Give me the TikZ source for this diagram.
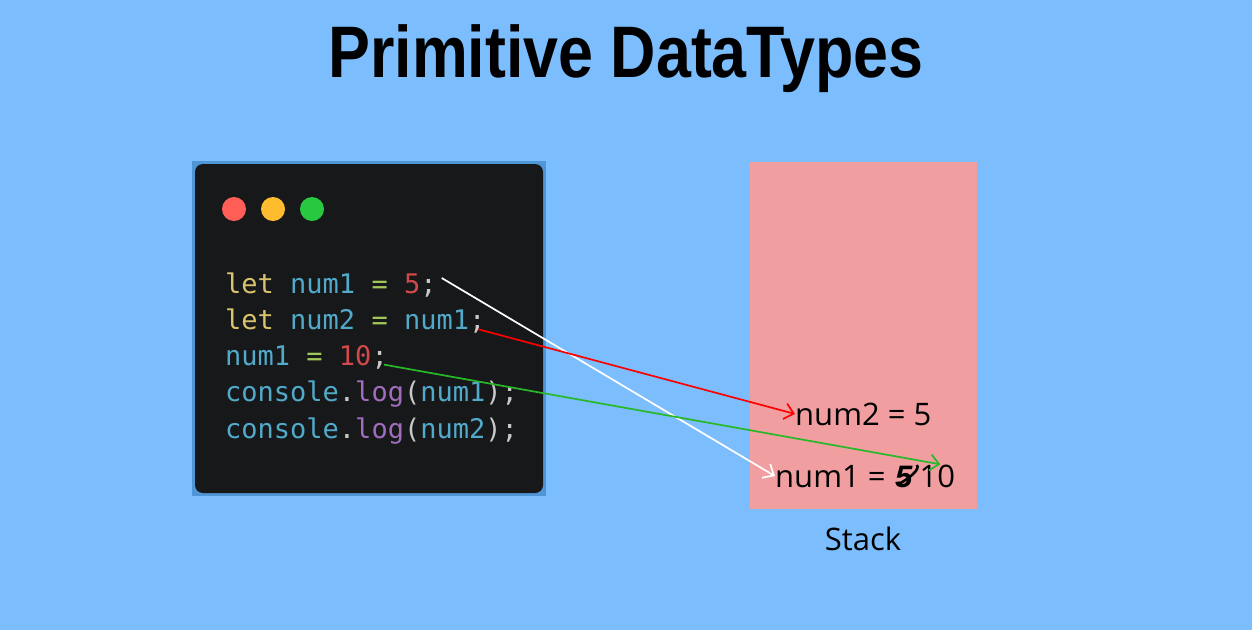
\documentclass[tikz,border=0pt]{standalone}
\usepackage{fontspec}
\setmainfont{Liberation Sans}
\setmonofont{DejaVu Sans Mono}
\newfontfamily\stackfont{Open Sans}
\usetikzlibrary{positioning,arrows.meta}
\definecolor{bgblue}{HTML}{7CBEFD}
\definecolor{frameblue}{HTML}{4F96D6}
\definecolor{codebg}{HTML}{17181A}
\definecolor{stackpink}{HTML}{F09EA0}
\definecolor{dotred}{HTML}{FF5F57}
\definecolor{dotyellow}{HTML}{FEBC2E}
\definecolor{dotgreen}{HTML}{28C840}
\definecolor{kwcol}{HTML}{D9C36C}
\definecolor{varcol}{HTML}{52AACB}
\definecolor{opcol}{HTML}{A2C85A}
\definecolor{numcol}{HTML}{D0494B}
\definecolor{puncol}{HTML}{C8C8C8}
\definecolor{fncol}{HTML}{A06CBE}
\definecolor{arrowred}{HTML}{FF0000}
\definecolor{arrowgreen}{HTML}{28B828}
\newcommand{\kw}[1]{\textcolor{kwcol}{#1}}
\newcommand{\vr}[1]{\textcolor{varcol}{#1}}
\newcommand{\op}[1]{\textcolor{opcol}{#1}}
\newcommand{\nm}[1]{\textcolor{numcol}{#1}}
\newcommand{\pu}[1]{\textcolor{puncol}{#1}}
\newcommand{\fn}[1]{\textcolor{fncol}{#1}}
\begin{document}
\begin{tikzpicture}[x=1pt, y=-1pt,
	codeline/.style={anchor=base west, inner sep=0pt, font=\ttfamily\fontsize{27}{32}\selectfont},
	stacktext/.style={anchor=base west, inner sep=0pt, font=\stackfont\fontsize{31}{36}\selectfont},
	link/.style={line width=1.7pt, -{Straight Barb[length=9pt, width=16pt, line width=1.7pt]}}]
	\useasboundingbox[fill=bgblue] (0,0) rectangle (1252,630);
	\node[font=\bfseries\fontsize{73}{80}\selectfont, anchor=base, xscale=0.86, transform shape] (title) at (626,77) {Primitive DataTypes};
	% code window
	\fill[frameblue] (192,161) rectangle (546,496);
	\fill[codebg, rounded corners=8pt] (195,164) rectangle (543,493);
	\fill[dotred] (234,209) circle[radius=12];
	\fill[dotyellow] (273,209) circle[radius=12];
	\fill[dotgreen] (312,209) circle[radius=12];
	\node[codeline] (l1) at (225,293) {\kw{let} \vr{num1} \op{=} \nm{5}\pu{;}};
	\node[codeline, below=36.3pt of l1.base west, anchor=base west] (l2) {\kw{let} \vr{num2} \op{=} \vr{num1}\pu{;}};
	\node[codeline, below=36.3pt of l2.base west, anchor=base west] (l3) {\vr{num1} \op{=} \nm{10}\pu{;}};
	\node[codeline, below=36.3pt of l3.base west, anchor=base west] (l4) {\vr{console}\pu{.}\fn{log}\pu{(}\vr{num1}\pu{);}};
	\node[codeline, below=36.3pt of l4.base west, anchor=base west] (l5) {\vr{console}\pu{.}\fn{log}\pu{(}\vr{num2}\pu{);}};
	% stack
	\fill[stackpink] (750,162) rectangle (977,509);
	\node[stacktext] (n2) at (795,425) {num2 = 5};
	\node[stacktext] (n1) at (775,487) {num1 = };
	\node[stacktext, right=9pt of n1.base east, anchor=base west, font=\bfseries\itshape\fontsize{31}{36}\selectfont] (five) {5};
	\draw[line width=2.6pt] ([shift={(2,-2)}]five.base west) .. controls ([shift={(14,-8)}]five.base west) and ([shift={(26,-18)}]five.base west) .. ([shift={(22,-22)}]five.base west);
	\node[stacktext, right=7pt of five.base east, anchor=base west] (ten) {10};
	\node[stacktext, anchor=center] (stack) at (863,539) {Stack};
	% links
	\draw[link, white] ([shift={(5,-15)}]l1.base east) -- (n1.west);
	\draw[link, arrowred] ([shift={(-7,0)}]l2.base east) -- (n2.west);
	\draw[link, arrowgreen] ([shift={(-4,-1)}]l3.base east) -- ([xshift=3pt]ten.north);
\end{tikzpicture}
\end{document}
